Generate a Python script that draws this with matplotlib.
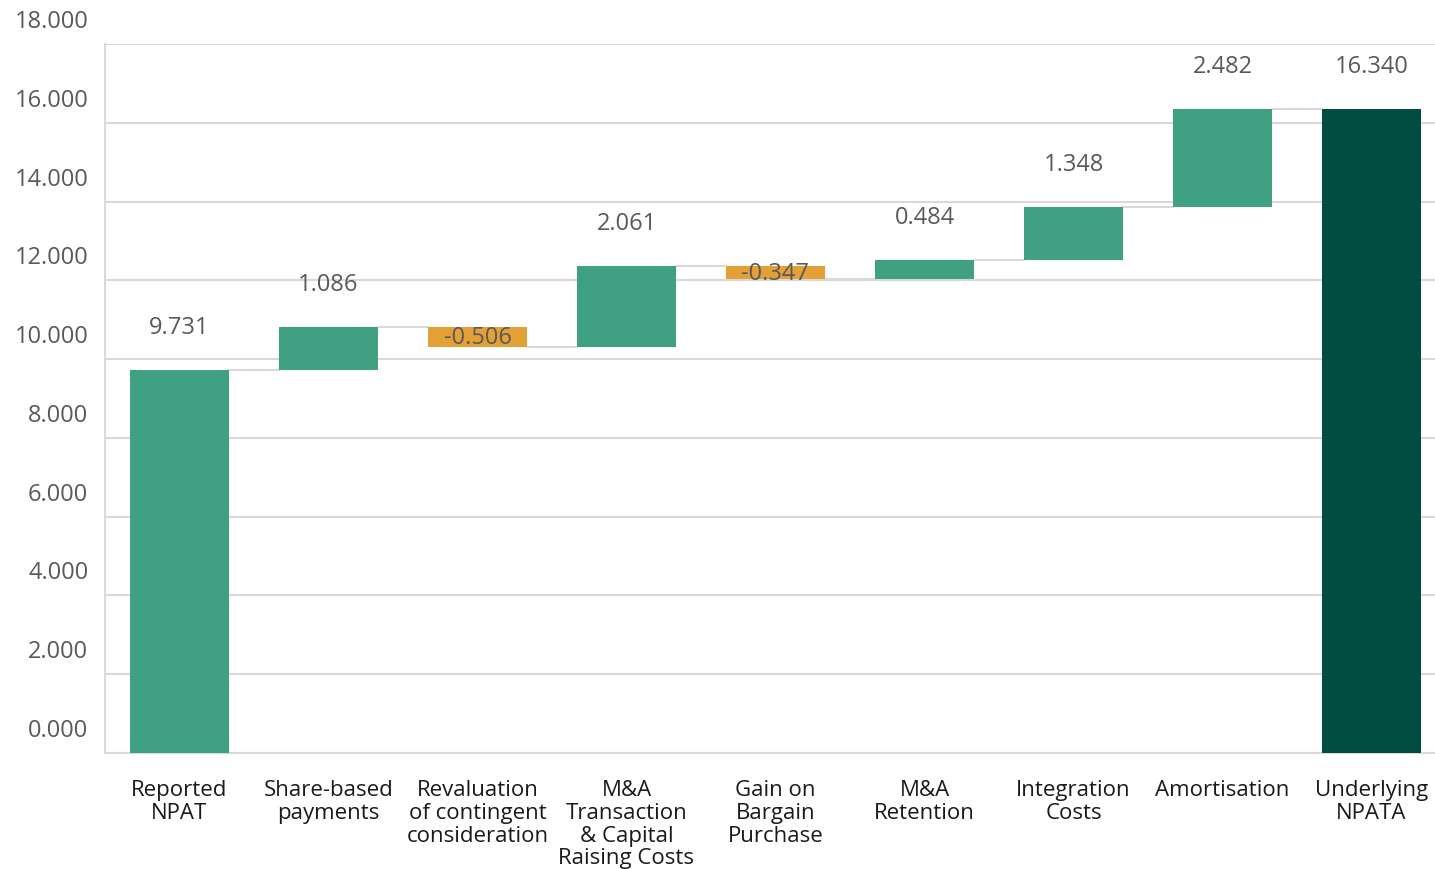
import matplotlib.pyplot as plt
from matplotlib.transforms import ScaledTranslation

plt.rcParams['font.family'] = ['Open Sans', 'DejaVu Sans']

# 数据
categories = ['Reported\nNPAT', 'Share-based\npayments', 'Revaluation\nof contingent\nconsideration',
              'M&A\nTransaction\n& Capital\nRaising Costs', 'Gain on\nBargain\nPurchase',
              'M&A\nRetention', 'Integration\nCosts', 'Amortisation', 'Underlying\nNPATA']
changes = [9.731, 1.086, -0.506, 2.061, -0.347, 0.484, 1.348, 2.482]
total = 16.340
yticks = [0, 2, 4, 6, 8, 10, 12, 14, 16, 18]

green = '#3FA181'
orange = '#E3A037'
dark = '#034C42'
grid_c = '#D9D9D9'
txt_c = '#595959'

fig = plt.figure(figsize=(14.35, 8.7), dpi=100)
ax = fig.add_axes([105 / 1435, 1 - 754 / 870, 1341 / 1435, (754 - 45) / 870])

# 瀑布图的底和高
bottoms, heights, colors = [], [], []
run = 0
for i, c in enumerate(changes):
    if i == 0:
        bottoms.append(0)
    else:
        bottoms.append(run if c >= 0 else run + c)
    heights.append(abs(c))
    colors.append(orange if c < 0 else green)
    run += c
bottoms.append(0)
heights.append(total)
colors.append(dark)

x = list(range(len(categories)))
w = 0.67
ax.bar(x, heights, bottom=bottoms, width=w, color=colors, zorder=3)

# 连接线
run = 0
for i, c in enumerate(changes):
    run += c
    ax.plot([i + w / 2, i + 1 - w / 2], [run, run], color=grid_c, lw=1.5, zorder=2)

# 数值标签
vals = changes + [total]
for i, v in enumerate(vals):
    if v < 0:
        ax.text(i, bottoms[i] + heights[i] / 2, f'{v:.3f}', ha='center', va='center',
                fontsize=17, color=txt_c, zorder=4)
    else:
        ax.annotate(f'{v:.3f}', (i, bottoms[i] + heights[i]), xytext=(0, 31),
                    textcoords='offset points', ha='center', va='center',
                    fontsize=17, color=txt_c, zorder=4)

ax.set_xlim(-0.5, 8.5)
ax.set_ylim(0, 18)
ax.set_yticks(yticks)
ax.set_yticklabels([f'{t:.3f}' for t in yticks])
ax.set_xticks(x)
ax.set_xticklabels(categories, fontsize=16, color='#1A1A1A', linespacing=1.1, va='top')
ax.tick_params(axis='x', length=0, pad=19)
ax.tick_params(axis='y', length=0, pad=12, labelsize=17, labelcolor=txt_c)
# y 轴标签整体上移
offset = ScaledTranslation(0, 26 / 100, fig.dpi_scale_trans)
for lab in ax.get_yticklabels():
    lab.set_transform(lab.get_transform() + offset)

ax.grid(axis='y', color=grid_c, lw=1.5, zorder=0)
for s in ['top', 'right']:
    ax.spines[s].set_visible(False)
ax.spines['left'].set_color(grid_c)
ax.spines['bottom'].set_color(grid_c)
ax.spines['left'].set_linewidth(1.5)
ax.spines['bottom'].set_linewidth(1.5)

fig.savefig('out.png', dpi=100)
